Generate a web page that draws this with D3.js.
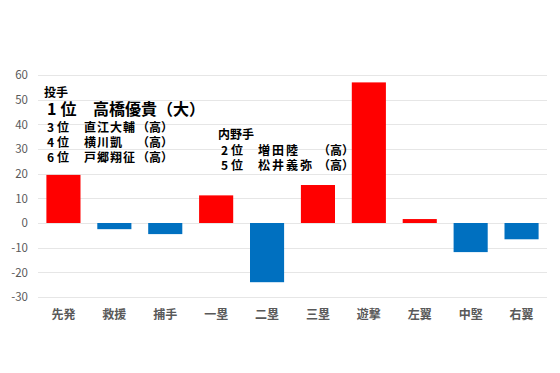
<!DOCTYPE html>
<html>
<head>
<meta charset="utf-8">
<script src="https://d3js.org/d3.v7.min.js"></script>
<style>
body { margin: 0; background: #fff; font-family: "Noto Sans CJK JP", sans-serif; }
.tick text { fill: #595959; }
</style>
</head>
<body>
<script>
// chart values
var positions = ["先発", "救援", "捕手", "一塁", "二塁", "三塁", "遊撃", "左翼", "中堅", "右翼"];
var values = [19.5, -2.5, -4.5, 11.2, -24, 15.4, 57, 1.6, -11.8, -6.6];
var yTicks = [60, 50, 40, 30, 20, 10, 0, -10, -20, -30];

// note blocks
var pitcherHead = "投手";
var pitcherRanks = ["1位", "3位", "4位", "6位"];
var pitcherNames = ["高橋優貴", "直江大輔", "横川凱", "戸郷翔征"];
var pitcherSchool = ["（大）", "（高）", "（高）", "（高）"];
var infieldHead = "内野手";
var infieldRanks = ["2位", "5位"];
var infieldNames = ["増田陸", "松井義弥"];
var infieldSchool = ["（高）", "（高）"];

var width = 560, height = 373;
var svg = d3.select("body").append("svg")
  .attr("width", width)
  .attr("height", height);

var x = d3.scaleBand().domain(positions).range([38, 547]).paddingInner(0.33).paddingOuter(0.165);
var y = d3.scaleLinear().domain([-30, 60]).range([297, 75]);

// gridlines
svg.append("g").selectAll("line")
  .data(yTicks)
  .enter().append("line")
  .attr("x1", 38).attr("x2", 547)
  .attr("y1", function(d) { return Math.round(y(d)) + 0.5; })
  .attr("y2", function(d) { return Math.round(y(d)) + 0.5; })
  .attr("stroke", "#e6e6e6");

// y axis labels
var yAxis = d3.axisLeft(y).tickValues(yTicks).tickSize(0).tickPadding(0).tickFormat(String);
var ga = svg.append("g").attr("transform", "translate(28,0)").call(yAxis);
ga.select(".domain").remove();
ga.selectAll("text").attr("font-size", 11.5).attr("font-family", "Noto Sans CJK JP, sans-serif");

// bars
svg.append("g").selectAll("rect")
  .data(values)
  .enter().append("rect")
  .attr("x", function(d, i) { return x(positions[i]); })
  .attr("width", x.bandwidth())
  .attr("y", function(d) { return d > 0 ? y(d) : y(0); })
  .attr("height", function(d) { return Math.abs(y(d) - y(0)); })
  .attr("fill", function(d) { return d > 0 ? "#ff0000" : "#0070c0"; });

// category labels
var xAxis = d3.axisBottom(x).tickSize(0).tickPadding(0);
var gx = svg.append("g").attr("transform", "translate(0,310)").call(xAxis);
gx.select(".domain").remove();
gx.selectAll("text").attr("font-size", 12).attr("font-weight", "bold")
  .attr("font-family", "Noto Sans CJK JP, sans-serif");

// annotations
var notes = svg.append("g").attr("fill", "#000").attr("font-weight", "bold");
notes.append("text").attr("x", 44).attr("y", 97).attr("font-size", 12).text(pitcherHead);
var py = [115, 132, 147, 162];
pitcherRanks.forEach(function(r, i) {
  var fs = i == 0 ? 16 : 12;
  var ls = i == 0 ? 4 : 3;
  notes.append("text").attr("x", 47).attr("y", py[i]).attr("font-size", fs)
    .attr("letter-spacing", ls).text(r);
  notes.append("text").attr("x", i == 0 ? 93 : 84).attr("y", py[i]).attr("font-size", fs)
    .attr("letter-spacing", i == 0 ? 0 : 1).text(pitcherNames[i]);
  notes.append("text").attr("x", i == 0 ? 157 : 137).attr("y", py[i]).attr("font-size", fs).text(pitcherSchool[i]);
});
notes.append("text").attr("x", 218).attr("y", 139).attr("font-size", 12).text(infieldHead);
var iy = [155, 170];
infieldRanks.forEach(function(r, i) {
  notes.append("text").attr("x", 221).attr("y", iy[i]).attr("font-size", 12)
    .attr("letter-spacing", 3).text(r);
  notes.append("text").attr("x", 258).attr("y", iy[i]).attr("font-size", 12)
    .attr("letter-spacing", 2).text(infieldNames[i]);
  notes.append("text").attr("x", 318).attr("y", iy[i]).attr("font-size", 12).text(infieldSchool[i]);
});
</script>
</body>
</html>
